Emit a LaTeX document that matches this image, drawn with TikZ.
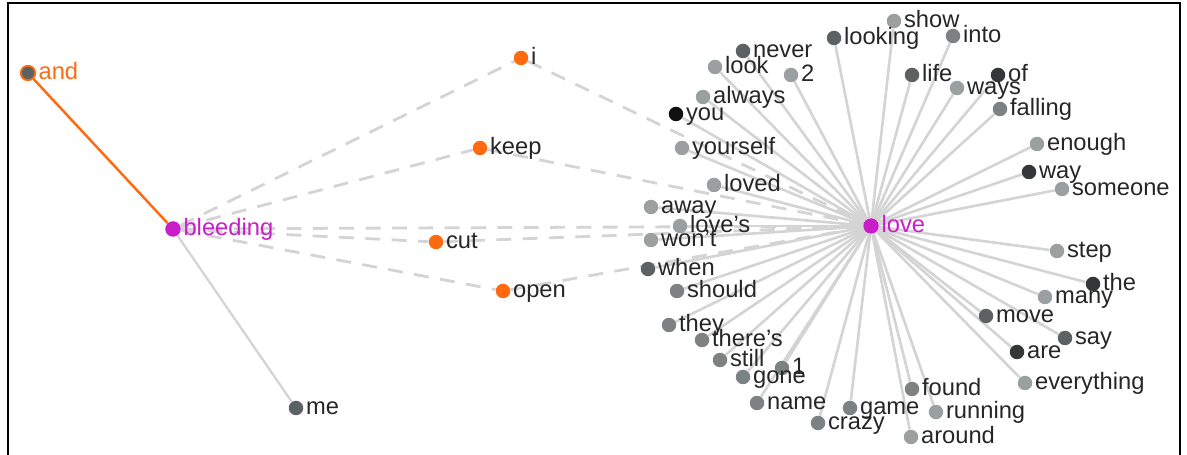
\documentclass[tikz,border=0pt]{standalone}
\usepackage{fontspec}
\setmainfont{Liberation Sans}
\usetikzlibrary{backgrounds}

\definecolor{wordorange}{HTML}{FF6A10}
\definecolor{wordmagenta}{HTML}{C81EC8}
\definecolor{edgegray}{HTML}{D4D4D4}
\definecolor{dotlight}{HTML}{9AA0A0}
\definecolor{dotmid}{HTML}{7C8282}
\definecolor{dotdark}{HTML}{5C6262}
\definecolor{dotdeep}{HTML}{333737}
\definecolor{dotblack}{HTML}{111111}

\begin{document}
\begin{tikzpicture}[
    x=0.02cm, y=-0.02cm,
    label distance=1.2pt,
    dot/.style={circle, inner sep=0pt, minimum size=0.29cm, fill=#1},
    hub/.style={circle, inner sep=0pt, minimum size=0.31cm, fill=wordmagenta},
    lbl/.style={inner sep=0pt, text height=1ex, text depth=0pt, yshift=-1pt,
      font=\fontsize{13.5}{15}\selectfont, text=black!85},
    hublbl/.style={lbl, text=wordmagenta},
    loveedge/.style={draw=edgegray, line width=1.5pt},
    dashedge/.style={draw=edgegray, line width=1.6pt, dash pattern=on 8.5pt off 6.5pt},
    orangeedge/.style={draw=wordorange, line width=1.4pt},
    grayedge/.style={draw=edgegray, line width=1.3pt}
  ]
    \useasboundingbox (0,0) rectangle (1187,455);
    \draw[line width=1.2pt] (8,455) -- (8,3) -- (1180,3) -- (1180,455);

    % left cluster
    \node[dot=dotdark, draw=wordorange, line width=1pt, label={[lbl, text=wordorange]right:and}] (and) at (28,73) {};
    \node[hub, label={[hublbl]right:bleeding}] (bleeding) at (173,229) {};
    \node[dot=dotdark, label={[lbl]right:me}] (me) at (296,408) {};

    % orange middle words
    \node[dot=wordorange, label={[lbl]right:i}] (i) at (521,58) {};
    \node[dot=wordorange, label={[lbl]right:keep}] (keep) at (480,148) {};
    \node[dot=wordorange, label={[lbl]right:cut}] (cut) at (436,242) {};
    \node[dot=wordorange, label={[lbl]right:open}] (open) at (503,291) {};

    % hub on the right
    \node[hub, label={[hublbl]right:love}] (love) at (871,226) {};

    % words around love
    \node[dot=dotdark, label={[lbl]right:never}] (never) at (743,51) {};
    \node[dot=dotlight, label={[lbl]right:look}] (look) at (715,67) {};
    \node[dot=dotlight, label={[lbl]right:2}] (two) at (791,75) {};
    \node[dot=dotlight, label={[lbl]right:always}] (always) at (703,97) {};
    \node[dot=dotblack, label={[lbl]right:you}] (you) at (676,114) {};
    \node[dot=dotlight, label={[lbl]right:yourself}] (yourself) at (682,148) {};
    \node[dot=dotlight, label={[lbl]right:loved}] (loved) at (714,185) {};
    \node[dot=dotlight, label={[lbl]right:away}] (away) at (651,207) {};
    \node[dot=dotlight, label={[lbl]right:love's}] (loves) at (680,226) {};
    \node[dot=dotlight, label={[lbl]right:won't}] (wont) at (651,240) {};
    \node[dot=dotdark, label={[lbl]right:when}] (when) at (648,269) {};
    \node[dot=dotmid, label={[lbl]right:should}] (should) at (677,291) {};
    \node[dot=dotmid, label={[lbl]right:they}] (they) at (669,325) {};
    \node[dot=dotmid, label={[lbl]right:there's}] (theres) at (702,340) {};
    \node[dot=dotmid, label={[lbl]right:still}] (still) at (720,360) {};
    \node[dot=dotmid, label={[lbl]right:1}] (one) at (782,368) {};
    \node[dot=dotmid, label={[lbl]right:gone}] (gone) at (743,377) {};
    \node[dot=dotmid, label={[lbl]right:name}] (name) at (757,403) {};
    \node[dot=dotmid, label={[lbl]right:crazy}] (crazy) at (818,423) {};
    \node[dot=dotmid, label={[lbl]right:game}] (game) at (850,408) {};
    \node[dot=dotmid, label={[lbl]right:found}] (found) at (912,389) {};
    \node[dot=dotlight, label={[lbl]right:running}] (running) at (936,412) {};
    \node[dot=dotlight, label={[lbl]right:around}] (around) at (911,437) {};
    \node[dot=dotlight, label={[lbl]right:everything}] (everything) at (1025,383) {};
    \node[dot=dotdeep, label={[lbl]right:are}] (are) at (1017,352) {};
    \node[dot=dotdark, label={[lbl]right:say}] (say) at (1065,338) {};
    \node[dot=dotdark, label={[lbl]right:move}] (move) at (986,316) {};
    \node[dot=dotlight, label={[lbl]right:many}] (many) at (1045,297) {};
    \node[dot=dotdeep, label={[lbl]right:the}] (the) at (1093,284) {};
    \node[dot=dotlight, label={[lbl]right:step}] (step) at (1057,251) {};
    \node[dot=dotlight, label={[lbl]right:someone}] (someone) at (1062,189) {};
    \node[dot=dotdeep, label={[lbl]right:way}] (way) at (1029,172) {};
    \node[dot=dotlight, label={[lbl]right:enough}] (enough) at (1037,144) {};
    \node[dot=dotmid, label={[lbl]right:falling}] (falling) at (1000,109) {};
    \node[dot=dotdeep, label={[lbl]right:of}] (of) at (998,75) {};
    \node[dot=dotlight, label={[lbl]right:ways}] (ways) at (957,88) {};
    \node[dot=dotmid, label={[lbl]right:into}] (into) at (953,36) {};
    \node[dot=dotdark, label={[lbl]right:life}] (life) at (912,75) {};
    \node[dot=dotlight, label={[lbl]right:show}] (show) at (894,21) {};
    \node[dot=dotdark, label={[lbl]right:looking}] (looking) at (834,38) {};

    \begin{scope}[on background layer]
      \draw[orangeedge] (and) -- (bleeding);
      \draw[grayedge] (bleeding) -- (me);

      \draw[dashedge] (bleeding) -- (i);
      \draw[dashedge] (bleeding) -- (keep);
      \draw[dashedge] (bleeding) -- (cut);
      \draw[dashedge] (bleeding) -- (open);
      \draw[dashedge] (bleeding) -- (love);
      \draw[dashedge] (i) -- (love);
      \draw[dashedge] (keep) -- (love);
      \draw[dashedge] (cut) -- (love);
      \draw[dashedge] (open) -- (love);

      \draw[loveedge] (love) -- (never);
      \draw[loveedge] (love) -- (look);
      \draw[loveedge] (love) -- (two);
      \draw[loveedge] (love) -- (always);
      \draw[loveedge] (love) -- (you);
      \draw[loveedge] (love) -- (yourself);
      \draw[loveedge] (love) -- (loved);
      \draw[loveedge] (love) -- (away);
      \draw[loveedge] (love) -- (loves);
      \draw[loveedge] (love) -- (wont);
      \draw[loveedge] (love) -- (when);
      \draw[loveedge] (love) -- (should);
      \draw[loveedge] (love) -- (they);
      \draw[loveedge] (love) -- (theres);
      \draw[loveedge] (love) -- (still);
      \draw[loveedge] (love) -- (one);
      \draw[loveedge] (love) -- (gone);
      \draw[loveedge] (love) -- (name);
      \draw[loveedge] (love) -- (crazy);
      \draw[loveedge] (love) -- (game);
      \draw[loveedge] (love) -- (found);
      \draw[loveedge] (love) -- (running);
      \draw[loveedge] (love) -- (around);
      \draw[loveedge] (love) -- (everything);
      \draw[loveedge] (love) -- (are);
      \draw[loveedge] (love) -- (say);
      \draw[loveedge] (love) -- (move);
      \draw[loveedge] (love) -- (many);
      \draw[loveedge] (love) -- (the);
      \draw[loveedge] (love) -- (step);
      \draw[loveedge] (love) -- (someone);
      \draw[loveedge] (love) -- (way);
      \draw[loveedge] (love) -- (enough);
      \draw[loveedge] (love) -- (falling);
      \draw[loveedge] (love) -- (of);
      \draw[loveedge] (love) -- (ways);
      \draw[loveedge] (love) -- (into);
      \draw[loveedge] (love) -- (life);
      \draw[loveedge] (love) -- (show);
      \draw[loveedge] (love) -- (looking);
    \end{scope}
  \end{tikzpicture}
\end{document}
